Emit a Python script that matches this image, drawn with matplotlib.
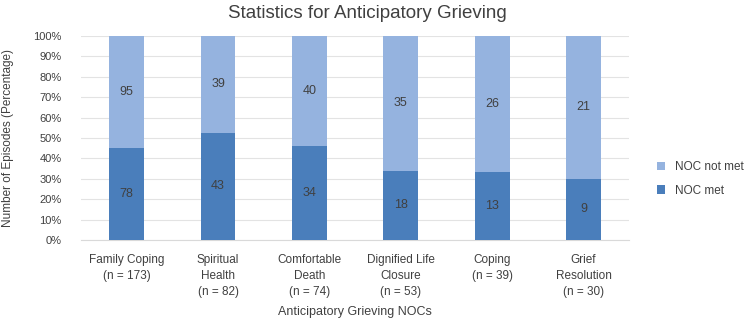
import numpy as np
import matplotlib.pyplot as plt
from matplotlib.ticker import PercentFormatter

# Data
categories = ["Family Coping\n(n = 173)", "Spiritual\nHealth\n(n = 82)",
              "Comfortable\nDeath\n(n = 74)", "Dignified Life\nClosure\n(n = 53)",
              "Coping\n(n = 39)", "Grief\nResolution\n(n = 30)"]
noc_met = [78, 43, 34, 18, 13, 9]
noc_not_met = [95, 39, 40, 35, 26, 21]

plt.rcParams['font.family'] = ['Liberation Sans', 'DejaVu Sans']
text_color = "#404040"
dark_blue = "#4a7ebb"
light_blue = "#95b3df"

met = np.array(noc_met, dtype=float)
not_met = np.array(noc_not_met, dtype=float)
total = met + not_met
met_pct = met / total
not_pct = not_met / total

fig = plt.figure(figsize=(7.5, 3.23), dpi=100)
ax = fig.add_axes([0.108, 0.257, 0.731, 0.632])

x = np.arange(len(categories))
width = 0.38
b1 = ax.bar(x, met_pct, width, color=dark_blue, label="NOC met", zorder=3)
b2 = ax.bar(x, not_pct, width, bottom=met_pct, color=light_blue,
            label="NOC not met", zorder=3)

# Count labels centred in each segment
for i in range(len(categories)):
    ax.text(x[i], met_pct[i] / 2, f"{int(met[i])}", ha="center", va="center",
            fontsize=9, color=text_color, zorder=4)
    ax.text(x[i], met_pct[i] + not_pct[i] / 2, f"{int(not_met[i])}",
            ha="center", va="center", fontsize=9, color=text_color, zorder=4)

ax.set_xlim(-0.5, len(categories) - 0.5)
ax.set_ylim(0, 1)
ax.set_yticks(np.linspace(0, 1, 11))
ax.yaxis.set_major_formatter(PercentFormatter(1.0, decimals=0))
ax.grid(axis="y", color="#e3e3e3", linewidth=0.8, zorder=0)
for side in ["top", "right", "left"]:
    ax.spines[side].set_visible(False)
ax.spines["bottom"].set_color("#d9d9d9")
ax.tick_params(axis="both", length=0, colors=text_color, labelsize=8)
ax.tick_params(axis="y", pad=14)
ax.set_xticks(x)
ax.set_xticklabels(categories, fontsize=8.5, color=text_color, linespacing=1.45)
ax.tick_params(axis="x", pad=10)

ax.set_xlabel("Anticipatory Grieving NOCs", fontsize=9, color=text_color,
              labelpad=6)
ax.set_ylabel("Number of Episodes (Percentage)", fontsize=8.5,
              color=text_color, labelpad=14)
fig.suptitle("Statistics for Anticipatory Grieving", fontsize=13.5,
             color=text_color, x=0.49, y=0.985)

handles = [b2, b1]
fig.legend(handles, ["NOC not met", "NOC met"], loc="center left",
           bbox_to_anchor=(0.862, 0.446), frameon=False, fontsize=8.5,
           handlelength=0.7, handleheight=0.7, labelspacing=0.95,
           labelcolor=text_color)

fig.savefig("out.png", dpi=100)
